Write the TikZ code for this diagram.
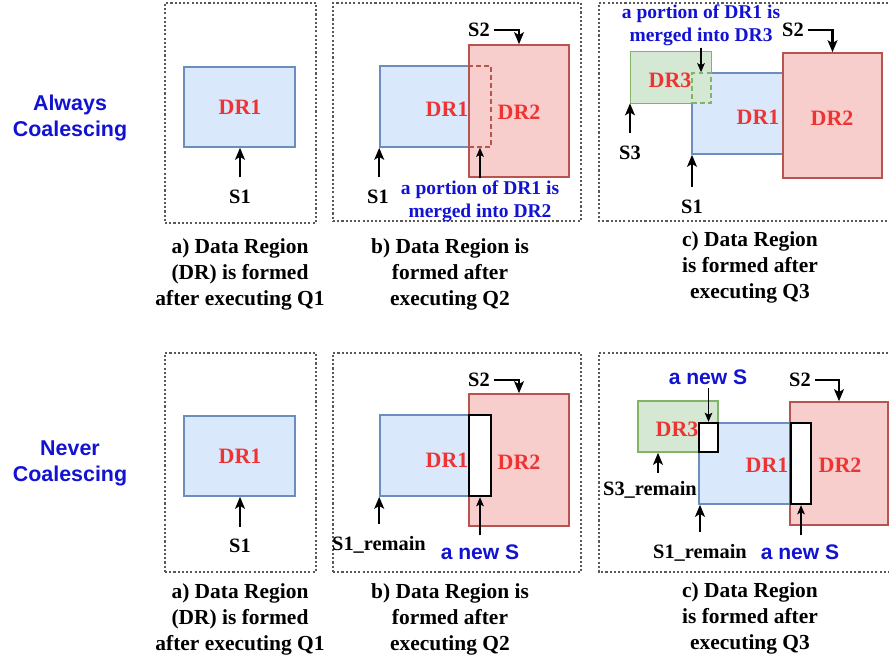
\documentclass[tikz,border=0pt]{standalone}
\usepackage{fontspec}
\setmainfont{Liberation Serif}
\newfontfamily\arialfont{Liberation Sans}
\usetikzlibrary{arrows.meta,fit}
\definecolor{dronefill}{HTML}{DAE8FC}
\definecolor{droneline}{HTML}{6C8EBF}
\definecolor{drtwofill}{HTML}{F8CECC}
\definecolor{drtwoline}{HTML}{B85450}
\definecolor{drthreefill}{HTML}{D5E8D4}
\definecolor{drthreeline}{HTML}{82B366}
\definecolor{drtext}{HTML}{EE3333}
\definecolor{notetext}{HTML}{1212D2}
\tikzset{
  panel/.style={draw=black!65, line width=0.6pt, dash pattern=on 1.2pt off 1.2pt, inner sep=0pt},
  dronebox/.style={fill=dronefill, draw=droneline, line width=0.9pt, inner sep=0pt},
  drtwobox/.style={fill=drtwofill, draw=drtwoline, line width=0.9pt, inner sep=0pt},
  drthreebox/.style={fill=drthreefill, draw=drthreeline, line width=0.9pt, inner sep=0pt},
  newsbox/.style={fill=white, draw=black, line width=1.4pt, inner sep=0pt},
  mergered/.style={draw=drtwoline, line width=0.9pt, dash pattern=on 2.8pt off 1.8pt},
  mergegreen/.style={draw=drthreeline, line width=0.9pt, dash pattern=on 2.8pt off 1.8pt},
  drname/.style={text=drtext, inner sep=0pt, font=\fontsize{12.5}{15}\selectfont\bfseries},
  slabel/.style={inner xsep=2pt, inner ysep=7pt, font=\fontsize{11.6}{14}\selectfont\bfseries},
  portion/.style={align=center, text=notetext, inner sep=1pt, font=\fontsize{11.1}{13.1}\selectfont\bfseries},
  newslabel/.style={text=notetext, inner sep=2pt, font=\arialfont\fontsize{12}{14}\selectfont\bfseries},
  rowlabel/.style={align=center, text=notetext, font=\arialfont\fontsize{12.2}{14.8}\selectfont\bfseries},
  caption/.style={align=center, font=\fontsize{12.2}{14.8}\selectfont\bfseries},
  sarrow/.style={line width=1.2pt, -{Stealth[length=6.8pt,width=5.6pt,inset=1.6pt]}},
  thinarrow/.style={line width=0.6pt, -{Stealth[length=5.2pt,width=4.4pt,inset=1.2pt]}},
}
\begin{document}
\begin{tikzpicture}[x=0.02cm,y=-0.02cm]
\useasboundingbox (0,0) rectangle (889,661);%

% Row titles
\node[rowlabel] (always) at (70,118) {Always\\Coalescing};%
\node[rowlabel] (never) at (70,463) {Never\\Coalescing};%

% ---------- Always coalescing, panel a ----------
\node[panel, fit={(165,3) (316,223)}] (framea1) {};%
\node[dronebox, fit={(184,67) (295,147)}] (dra1) {};%
\node[drname] (dra1t) at (240,107) {DR1};%
\node[slabel] (sa1) at (240,197) {S1};%
\draw[sarrow] (sa1.north) -- (sa1.north |- dra1.south);%
\node[caption] (capa1) at (240,274) {a) Data Region\\(DR) is formed\\after executing Q1};%

% ---------- Always coalescing, panel b ----------
\node[panel, fit={(333,3) (581,221)}] (frameb1) {};%
\node[dronebox, fit={(380,66) (480,147)}] (drb1) {};%
\node[drtwobox, fit={(469,45) (569,177)}] (drb2) {};%
\node[mergered, inner sep=0pt, fit={(469,66) (491,147)}] (ovb) {};%
\node[drname] (drb1t) at (447,109) {DR1};%
\node[drname] (drb2t) at (519,112) {DR2};%
\node[slabel] (sb2) at (479,30) {S2};%
\draw[sarrow] (sb2.east) -| (drb2.north);%
\node[slabel] (sb1) at (378,197) {S1};%
\draw[sarrow] (sb1.north -| drb1.south west) -- (drb1.south west);%
\node[portion] (ptb) at (480,201) {a portion of DR1 is\\merged into DR2};%
\draw[thinarrow] (ptb.north -| ovb.south) -- (ovb.south);%
\node[caption] (capb1) at (450,274) {b) Data Region is\\formed after\\executing Q2};%

% ---------- Always coalescing, panel c ----------
\draw[panel] (888,3) -- (599,3) -- (599,221) -- (888,221);%
\node[dronebox, fit={(692,73) (783,154)}] (drc1) {};%
\node[drtwobox, fit={(783,53) (882,178)}] (drc2) {};%
\node[fill=drthreefill, inner sep=0pt, fit={(631,52) (711,103)}] (drc3) {};%
\draw[drthreeline, line width=0.9pt] (drc3.south -| drc1.west) -- (drc3.south west) -- (drc3.north west) -- (drc3.north east) -- (drc3.north east |- drc1.north);%
\node[mergegreen, inner sep=0pt, fit={(692,73) (711,103)}] (ovc) {};%
\node[drname] (drc3t) at (670,80) {DR3};%
\node[drname] (drc1t) at (758,117) {DR1};%
\node[drname] (drc2t) at (832,118) {DR2};%
\node[slabel] (sc2) at (793,30) {S2};%
\draw[sarrow] (sc2.east) -| (drc2.north);%
\node[slabel] (sc3) at (630,153) {S3};%
\draw[sarrow] (sc3.north) -- (sc3.north |- drc3.south);%
\node[slabel] (sc1) at (692,207) {S1};%
\draw[sarrow] (sc1.north) -- (sc1.north |- drc1.south);%
\node[portion] (ptc) at (701,25) {a portion of DR1 is\\merged into DR3};%
\draw[thinarrow] (ptc.south) -- (ptc.south |- ovc.north);%
\node[caption] (capc1) at (750,267) {c) Data Region\\is formed after\\executing Q3};%

% ---------- Never coalescing, panel a ----------
\node[panel, fit={(165,353) (316,572)}] (framea2) {};%
\node[dronebox, fit={(184,416) (295,496)}] (dra2) {};%
\node[drname] (dra2t) at (240,456) {DR1};%
\node[slabel] (sa2) at (240,546) {S1};%
\draw[sarrow] (sa2.north) -- (sa2.north |- dra2.south);%
\node[caption] (capa2) at (240,619) {a) Data Region\\(DR) is formed\\after executing Q1};%

% ---------- Never coalescing, panel b ----------
\node[panel, fit={(333,353) (581,572)}] (frameb2) {};%
\node[dronebox, fit={(380,415) (480,496)}] (dre1) {};%
\node[drtwobox, fit={(469,394) (569,526)}] (dre2) {};%
\node[newsbox, fit={(469,415) (491,496)}] (nse) {};%
\node[drname] (dre1t) at (447,460) {DR1};%
\node[drname] (dre2t) at (519,462) {DR2};%
\node[slabel] (se2) at (479,380) {S2};%
\draw[sarrow] (se2.east) -| (dre2.north);%
\node[slabel] (se1) at (379,545) {S1\_remain};%
\draw[sarrow] (se1.north -| dre1.south west) -- (dre1.south west);%
\node[newslabel] (nsel) at (480,552) {a new S};%
\draw[thinarrow, shorten <=3pt] (nsel.north -| nse.south) -- (nse.south);%
\node[caption] (capb2) at (450,619) {b) Data Region is\\formed after\\executing Q2};%

% ---------- Never coalescing, panel c ----------
\draw[panel] (888,353) -- (599,353) -- (599,572) -- (888,572);%
\node[drthreebox, fit={(638,401) (718,452)}] (drf3) {};%
\node[dronebox, fit={(699,423) (792,504)}] (drf1) {};%
\node[drtwobox, fit={(790,402) (888,525)}] (drf2) {};%
\node[drname] (drf3t) at (677,429) {DR3};%
\node[newsbox, fit={(699,423) (718,452)}] (nsf1) {};%
\node[newsbox, fit={(791,423) (811,504)}] (nsf2) {};%
\node[drname] (drf1t) at (767,465) {DR1};%
\node[drname] (drf2t) at (840,465) {DR2};%
\node[newslabel] (nsf1l) at (708,377) {a new S};%
\draw[thinarrow] (nsf1l.south -| nsf1.north) -- (nsf1.north);%
\node[slabel] (sf2) at (800,380) {S2};%
\draw[sarrow] (sf2.east) -| (drf2.north);%
\node[slabel] (sf3) at (650,490) {S3\_remain};%
\coordinate (sf3tail) at (658,473);%
\draw[sarrow] (sf3tail) -- (sf3tail |- drf3.south);%
\node[slabel] (sf1) at (700,553) {S1\_remain};%
\draw[sarrow] (sf1.north) -- (sf1.north |- drf1.south);%
\node[newslabel] (nsf2l) at (800,552) {a new S};%
\draw[thinarrow, shorten <=3pt] (nsf2l.north -| nsf2.south) -- (nsf2.south);%
\node[caption] (capc2) at (750,618) {c) Data Region\\is formed after\\executing Q3};%
\end{tikzpicture}
\end{document}
